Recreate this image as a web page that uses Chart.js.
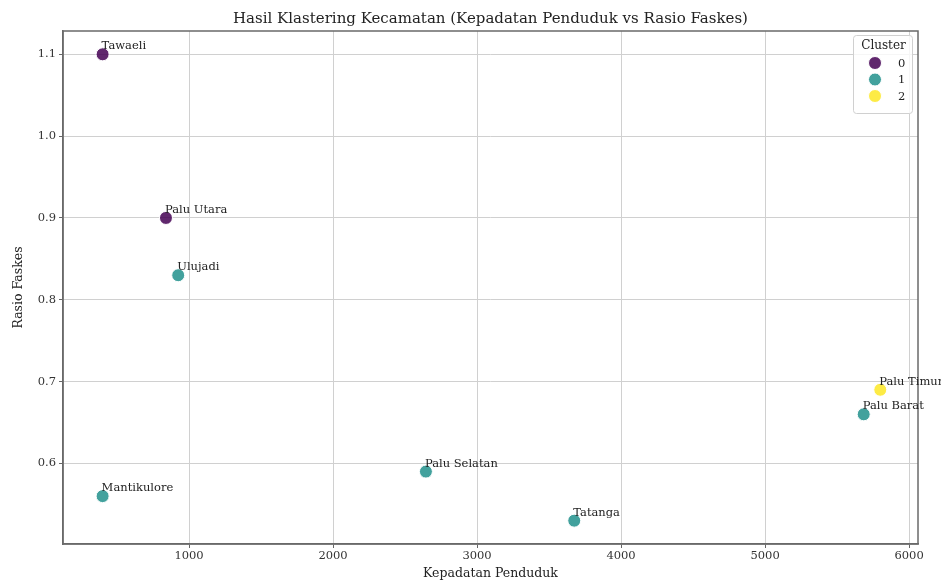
<!DOCTYPE html>
<html>
<head>
<meta charset="utf-8">
<script src="https://cdn.jsdelivr.net/npm/chart.js@4/dist/chart.umd.min.js"></script>
<style>
  html, body { margin: 0; padding: 0; background: #ffffff; }
  #wrap { width: 941px; height: 581px; }
</style>
</head>
<body>
<div id="wrap"><canvas id="c" width="941" height="581"></canvas></div>
<script>
// Kecamatan names, population density, health-facility ratio and cluster id
const kecamatan = ['Tawaeli', 'Palu Utara', 'Ulujadi', 'Mantikulore', 'Palu Selatan', 'Tatanga', 'Palu Barat', 'Palu Timur'];
const kepadatan = [400, 840, 925, 400, 2645, 3675, 5685, 5800];
const rasioFaskes = [1.10, 0.90, 0.83, 0.56, 0.59, 0.53, 0.66, 0.69];
const cluster = [0, 0, 1, 1, 1, 1, 1, 2];

const clusterIds = [0, 1, 2];
const clusterColors = ['rgba(68,1,84,0.85)', 'rgba(33,145,140,0.85)', 'rgba(253,231,37,0.85)'];

const xTickValues = [1000, 2000, 3000, 4000, 5000, 6000];
const yTickValues = [0.6, 0.7, 0.8, 0.9, 1.0, 1.1];

const FONT = "'DejaVu Serif', 'Liberation Serif', serif";

const datasets = clusterIds.map(function (cid) {
  const pts = [];
  kecamatan.forEach(function (name, i) {
    if (cluster[i] === cid) pts.push({ x: kepadatan[i], y: rasioFaskes[i], name: name });
  });
  return {
    label: String(cid),
    data: pts,
    backgroundColor: clusterColors[cid],
    borderColor: '#ffffff',
    borderWidth: 1,
    pointRadius: 6.5,
    pointHoverRadius: 6.5
  };
});

// Full frame around the plot area (top and right spines included)
const frame = {
  id: 'frame',
  afterDatasetsDraw(chart) {
    const a = chart.chartArea, ctx = chart.ctx;
    ctx.save();
    ctx.strokeStyle = '#6a6a6a';
    ctx.lineWidth = 1.5;
    ctx.strokeRect(a.left, a.top, a.right - a.left, a.bottom - a.top);
    ctx.restore();
  }
};

// Writes each kecamatan name just above and to the right of its point
const pointLabels = {
  id: 'pointLabels',
  afterDatasetsDraw(chart) {
    const ctx = chart.ctx;
    const xs = chart.scales.x, ys = chart.scales.y;
    ctx.save();
    ctx.font = '11.5px ' + FONT;
    ctx.fillStyle = '#222222';
    ctx.textAlign = 'left';
    ctx.textBaseline = 'alphabetic';
    kecamatan.forEach(function (name, i) {
      const px = xs.getPixelForValue(kepadatan[i]);
      const py = ys.getPixelForValue(rasioFaskes[i] + 0.006);
      ctx.fillText(name, px - 1, py);
    });
    ctx.restore();
  }
};

// Legend box in the upper-right corner of the plot area
const clusterLegend = {
  id: 'clusterLegend',
  afterDraw(chart) {
    const ctx = chart.ctx;
    const a = chart.chartArea;
    const w = 59, h = 78;
    const x0 = a.right - w - 6, y0 = a.top + 4;
    ctx.save();
    ctx.fillStyle = 'rgba(255,255,255,0.8)';
    ctx.strokeStyle = '#d0d0d0';
    ctx.lineWidth = 1;
    ctx.beginPath();
    ctx.roundRect(x0 + 0.5, y0 + 0.5, w, h, 3);
    ctx.fill();
    ctx.stroke();
    ctx.fillStyle = '#222222';
    ctx.font = '12px ' + FONT;
    ctx.textAlign = 'center';
    ctx.textBaseline = 'middle';
    ctx.fillText('Cluster', x0 + w / 2 + 1, y0 + 11);
    clusterIds.forEach(function (cid, k) {
      const cy = y0 + 28 + k * 16.5;
      ctx.beginPath();
      ctx.arc(x0 + 22, cy, 6.5, 0, Math.PI * 2);
      ctx.fillStyle = clusterColors[cid];
      ctx.fill();
      ctx.strokeStyle = '#ffffff';
      ctx.stroke();
      ctx.fillStyle = '#222222';
      ctx.font = '11.5px ' + FONT;
      ctx.textAlign = 'left';
      ctx.fillText(String(cid), x0 + 45, cy + 1);
    });
    ctx.restore();
  }
};

new Chart(document.getElementById('c'), {
  type: 'scatter',
  data: { datasets: datasets },
  plugins: [frame, pointLabels, clusterLegend],
  options: {
    responsive: false,
    animation: false,
    layout: { padding: { top: 0, right: 23, bottom: 0, left: 0 } },
    plugins: {
      legend: { display: false },
      tooltip: { enabled: false },
      title: {
        display: true,
        fullSize: false,
        text: 'Hasil Klastering Kecamatan (Kepadatan Penduduk vs Rasio Faskes)',
        color: '#222222',
        font: { family: FONT, size: 15, weight: 'normal' },
        padding: { top: 10, bottom: 3 }
      }
    },
    scales: {
      x: {
        type: 'linear',
        min: 125,
        max: 6062,
        afterBuildTicks(s) { s.ticks = xTickValues.map(function (v) { return { value: v }; }); },
        afterFit(s) { s.height = 37; },
        ticks: {
          color: '#333333',
          font: { family: FONT, size: 11.5 },
          padding: 1,
          maxRotation: 0,
          callback: function (v) { return String(v); }
        },
        grid: { color: '#d0d0d0', lineWidth: 1, tickLength: 4, tickColor: '#666666' },
        border: { color: '#6a6a6a', width: 1.5 },
        title: {
          display: true,
          text: 'Kepadatan Penduduk',
          color: '#222222',
          font: { family: FONT, size: 12.5 },
          padding: { top: 1, bottom: 0 }
        }
      },
      y: {
        type: 'linear',
        min: 0.5015,
        max: 1.1285,
        afterBuildTicks(s) { s.ticks = yTickValues.map(function (v) { return { value: v }; }); },
        afterFit(s) { s.width = 63; },
        ticks: {
          color: '#333333',
          font: { family: FONT, size: 11.5 },
          padding: 3,
          callback: function (v) { return v.toFixed(1); }
        },
        grid: { color: '#d0d0d0', lineWidth: 1, tickLength: 4, tickColor: '#666666' },
        border: { color: '#6a6a6a', width: 1.5 },
        title: {
          display: true,
          text: 'Rasio Faskes',
          color: '#222222',
          font: { family: FONT, size: 12.5 },
          padding: { top: 11, bottom: 0 }
        }
      }
    }
  }
});
</script>
</body>
</html>
